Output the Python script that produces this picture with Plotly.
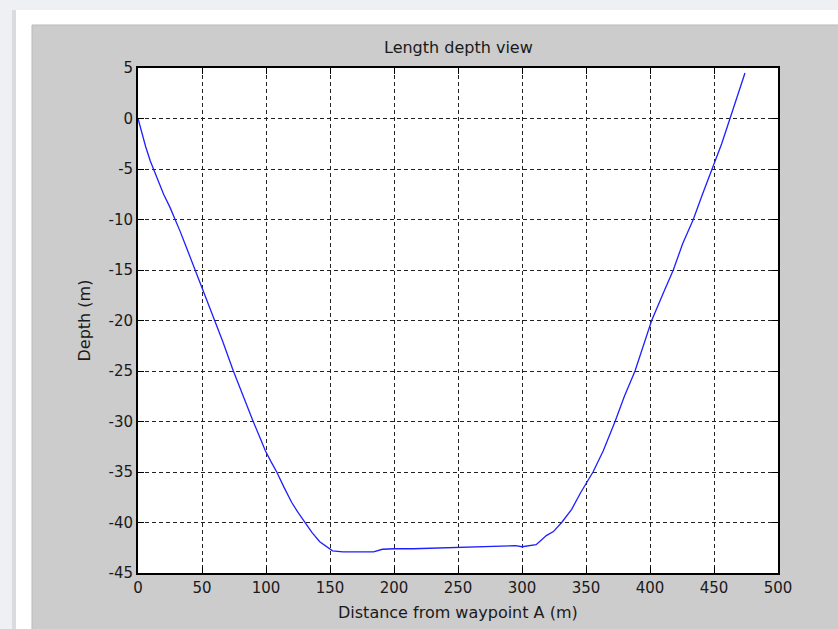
import plotly.graph_objects as go

# ---- data ----
distance_m = [0, 3, 6, 9.6, 12.2, 16, 20, 25, 29.1, 33, 37, 41, 44.8, 50, 58, 66, 74.5, 82, 90, 95,
              99.5, 104, 108.4, 114, 120, 125, 130.5, 136, 142, 148.7, 152, 160, 170, 184, 191, 200,
              215, 230, 244, 250, 265, 280, 295, 300, 305, 311, 315.4, 319, 324.5, 331, 338.8, 346,
              355.5, 363.5, 372.7, 380, 388.3, 395, 401.3, 410, 418.2, 425.5, 433.8, 441, 448.7, 456,
              462.5, 467, 472, 474.2]
depth_m = [0, -1.5, -2.8, -4.2, -5, -6.3, -7.5, -8.8, -10, -11.2, -12.5, -13.8, -15, -16.6, -19.3,
           -22, -25, -27.5, -30, -31.5, -32.9, -34, -35, -36.5, -38, -39, -40, -41, -41.9, -42.5,
           -42.8, -42.9, -42.9, -42.9, -42.65, -42.6, -42.6, -42.55, -42.5, -42.45, -42.4, -42.35,
           -42.3, -42.4, -42.3, -42.2, -41.7, -41.3, -40.9, -40, -38.7, -37, -35, -32.9, -30, -27.5,
           -25, -22.5, -20, -17.4, -15, -12.4, -10, -7.5, -5, -2.5, 0, 1.8, 3.8, 4.5]

x_ticks = [0, 50, 100, 150, 200, 250, 300, 350, 400, 450, 500]
y_ticks = [5, 0, -5, -10, -15, -20, -25, -30, -35, -40, -45]

title_text = "Length depth view"
x_label = "Distance from waypoint A (m)"
y_label = "Depth (m)"

# ---- layout geometry (pixels) ----
W, H = 838, 629
L, R, T, B = 138, 60, 68, 56
PW, PH = W - L - R, H - T - B


def px(x):
    return (x - L) / PW


def py(y):
    return (H - B - y) / PH


FONT = "DejaVu Sans, Liberation Sans, Arial, sans-serif"
TXT = "#1a1a1a"

fig = go.Figure()
fig.add_trace(go.Scatter(x=distance_m, y=depth_m, mode="lines",
                         line=dict(color="#1f1fff", width=1.3), showlegend=False,
                         hoverinfo="skip"))

shapes = [
    # slight shadow strip at left
    dict(type="rect", xref="paper", yref="paper", x0=px(12), x1=px(16), y0=py(H), y1=py(10),
         line=dict(width=0), fillcolor="#d9dbde", layer="below"),
    # white window frame
    dict(type="rect", xref="paper", yref="paper", x0=px(16), x1=px(W + 2), y0=py(H + 2), y1=py(10),
         line=dict(width=0), fillcolor="#ffffff", layer="below"),
    # gray figure background
    dict(type="rect", xref="paper", yref="paper", x0=px(32), x1=px(W + 2), y0=py(H + 2), y1=py(25),
         line=dict(width=1, color="#b9b9b9"), fillcolor="#cccccc", layer="below"),
    # white axes area
    dict(type="rect", xref="paper", yref="paper", x0=0, x1=1, y0=0, y1=1,
         line=dict(width=0), fillcolor="#ffffff", layer="below"),
]

axis_common = dict(
    showline=True, linecolor="#000000", linewidth=1.8, mirror="ticks",
    ticks="inside", ticklen=6, tickwidth=1.3, tickcolor="#000000",
    showgrid=True, gridcolor="#222222", gridwidth=1, griddash="4px,3px",
    zeroline=False, tickfont=dict(family=FONT, size=15, color=TXT),
    fixedrange=True,
)

fig.update_layout(
    width=W, height=H,
    margin=dict(l=L, r=R, t=T, b=B, pad=0),
    paper_bgcolor="#eef0f3",
    plot_bgcolor="#ffffff",
    shapes=shapes,
    xaxis=dict(range=[0, 500], tickvals=x_ticks, ticktext=[str(v) for v in x_ticks], **axis_common),
    yaxis=dict(range=[-45, 5], tickvals=y_ticks, ticktext=[str(v) for v in y_ticks], **axis_common),
    annotations=[
        dict(text=title_text, xref="paper", yref="paper", x=0.5, y=py(48), showarrow=False,
             xanchor="center", yanchor="middle", font=dict(family=FONT, size=16, color=TXT)),
        dict(text=x_label, xref="paper", yref="paper", x=0.5, y=py(612), showarrow=False,
             xanchor="center", yanchor="middle", font=dict(family=FONT, size=16, color=TXT)),
        dict(text=y_label, xref="paper", yref="paper", x=px(84), y=0.5, showarrow=False,
             textangle=-90, xanchor="center", yanchor="middle",
             font=dict(family=FONT, size=16, color=TXT)),
    ],
)

fig.write_html(
    "out.html",
    config={"displayModeBar": False},
    post_script="document.body.style.margin='0';document.body.style.background='#eef0f3';",
)
